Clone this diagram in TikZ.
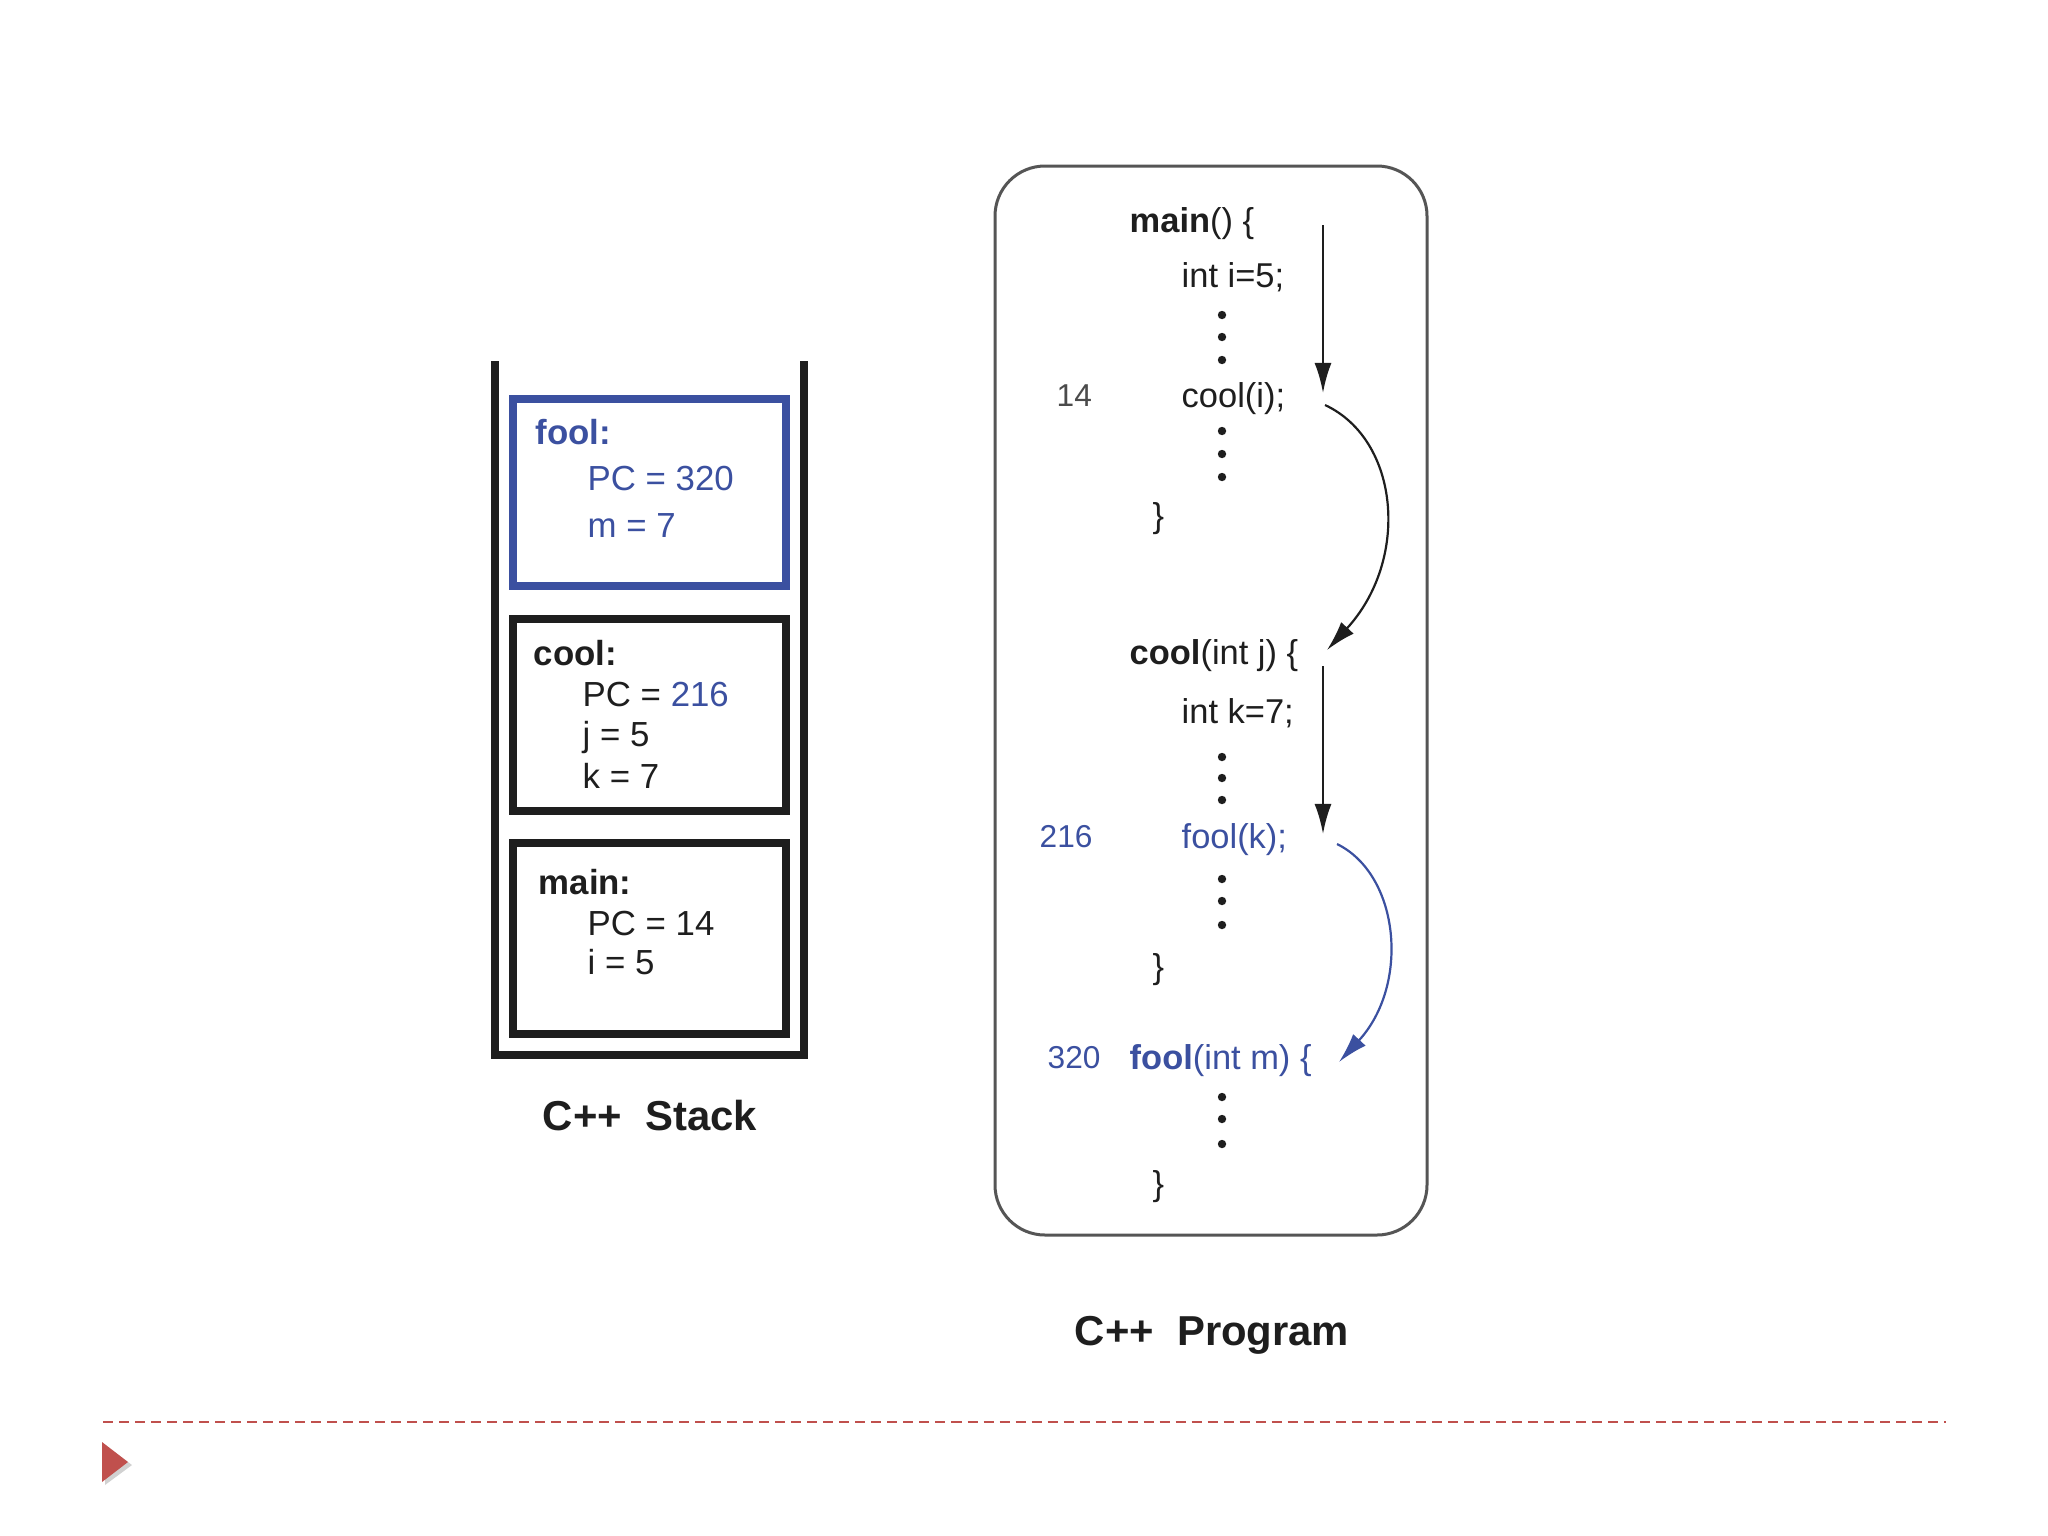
\documentclass[tikz,border=0pt]{standalone}
\usepackage{fontspec}
\setmainfont{Liberation Sans}
\usetikzlibrary{arrows.meta}
\definecolor{navy}{RGB}{59,80,160}
\definecolor{ink}{RGB}{30,30,30}
\definecolor{accent}{RGB}{192,80,77}
\definecolor{frame}{RGB}{85,85,85}
\begin{document}
\begin{tikzpicture}[x=0.01cm,y=-0.01cm,
  txt/.style={anchor=base west,inner sep=0,font=\fontsize{9.9pt}{12pt}\selectfont,text=ink},
  code/.style={anchor=base west,inner sep=0,font=\fontsize{9.8pt}{12pt}\selectfont,text=ink},
  lineno/.style={anchor=base west,inner sep=0,font=\fontsize{9.0pt}{11pt}\selectfont,text=ink!80},
  bluetxt/.style={text=navy},
  title/.style={anchor=base,inner sep=0,font=\fontsize{11.9pt}{14pt}\selectfont\bfseries,text=ink},
  wall/.style={draw=ink,line width=0.75mm,line join=miter},
  frameblk/.style={draw=ink,line width=0.8mm},
  frameblue/.style={draw=navy,line width=0.8mm},
  progbox/.style={draw=frame,line width=0.3mm,rounded corners=5mm},
  flow/.style={draw=ink,line width=0.25mm,-{Latex[length=3mm,width=1.7mm]}},
  call/.style={draw=ink,line width=0.22mm,-{Latex[length=3mm,width=1.7mm]}},
  callblue/.style={draw=navy,line width=0.22mm,-{Latex[length=3mm,width=1.7mm]}},
  dotmark/.style={fill=ink},
]
\useasboundingbox (0,0) rectangle (2048,1536);

% ---------- stack ----------
\draw[wall] (495,361) -- (495,1055) -- (804,1055) -- (804,361);
\draw[frameblue] (513,399) rectangle (786,586);
\draw[frameblk] (513,619) rectangle (786,811);
\draw[frameblk] (513,843) rectangle (786,1034);

\node[txt,bluetxt,font=\fontsize{9.9pt}{12pt}\selectfont\bfseries] (sf) at (535,444) {fool:};
\node[txt,bluetxt] (sfpc) at (587,490) {PC = 320};
\node[txt,bluetxt] (sfm) at (587,537) {m = 7};

\node[txt,font=\fontsize{9.9pt}{12pt}\selectfont\bfseries] (sc) at (533,665) {cool:};
\node[txt] (scpc) at (582,706) {PC = \textcolor{navy}{216}};
\node[txt] (scj) at (582,746) {j = 5};
\node[txt] (sck) at (582,788) {k = 7};

\node[txt,font=\fontsize{9.9pt}{12pt}\selectfont\bfseries] (sm) at (538,894) {main:};
\node[txt] (smpc) at (587,935) {PC = 14};
\node[txt] (smi) at (587,974) {i = 5};

\node[title] (stacklabel) at (650,1130) {C++\ \ Stack};

% ---------- program ----------
\draw[progbox] (995,166) rectangle (1427,1235);

\node[code] (l1) at (1129,232) {\textbf{main}() \{};
\node[code] (l2) at (1181,287) {int i=5;};
\node[lineno] (n14) at (1056,406) {14};
\node[code] (l3) at (1181,407) {cool(i);};
\node[code] (l4) at (1152,527) {\}};

\node[code] (l5) at (1129,664) {\textbf{cool}(int j) \{};
\node[code] (l6) at (1181,723) {int k=7;};
\node[lineno,bluetxt] (n216) at (1039,847) {216};
\node[code,bluetxt] (l7) at (1181,848) {fool(k);};
\node[code] (l8) at (1152,978) {\}};

\node[lineno,bluetxt] (n320) at (1047,1068) {320};
\node[code,bluetxt] (l9) at (1129,1069) {\textbf{fool}(int m) \{};
\node[code] (l10) at (1152,1195) {\}};

\foreach \yy in {315,337,360, 431,454,477, 757,778,800, 879,901,925, 1097,1119,1144}
  \fill[dotmark] (1222,\yy) circle[radius=0.42mm];

\coordinate (a1s) at (1323,225);
\coordinate (a1e) at (1323,393);
\coordinate (c1s) at (1325,405);
\coordinate (c1e) at (1327,650);
\coordinate (a2s) at (1323,666);
\coordinate (a2e) at (1323,834);
\coordinate (c2s) at (1337,844);
\coordinate (c2e) at (1339,1062);

\draw[flow] (a1s) -- (a1e);
\draw[call] (c1s) .. controls (1400,440) and (1410,560) .. (c1e);
\draw[flow] (a2s) -- (a2e);
\draw[callblue] (c2s) .. controls (1400,875) and (1410,985) .. (c2e);

\node[title] (proglabel) at (1212,1345) {C++\ \ Program};

% ---------- footer ----------
\coordinate (dl) at (103,1422);
\coordinate (dr) at (1946,1422);
\draw[accent,line width=0.22mm,dash pattern=on 1.0mm off 0.6mm] (dl) -- (dr);
\fill[black,opacity=0.18] (105,1445) -- (132,1465) -- (105,1485) -- cycle;
\fill[accent] (102,1442) -- (128,1462) -- (102,1482) -- cycle;
\end{tikzpicture}
\end{document}
